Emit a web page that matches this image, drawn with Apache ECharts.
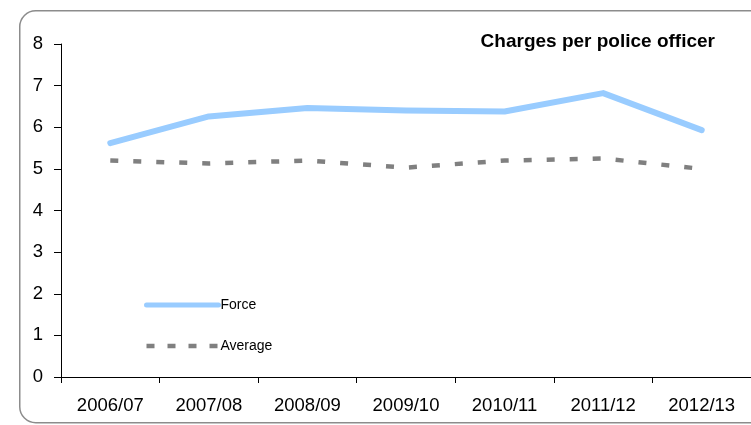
<!DOCTYPE html>
<html><head><meta charset="utf-8">
<script src="https://cdn.jsdelivr.net/npm/echarts@6/dist/echarts.min.js"></script>
<style>html,body{margin:0;padding:0;background:#fff}#c{width:751px;height:425px}</style>
</head><body><div id="c"></div>
<script>
const categories = ['2006/07','2007/08','2008/09','2009/10','2010/11','2011/12','2012/13'];
const forceValues = [5.62, 6.26, 6.46, 6.40, 6.38, 6.82, 5.93];
const averageValues = [5.20, 5.13, 5.20, 5.03, 5.20, 5.25, 5.00];
const yTicks = [0,1,2,3,4,5,6,7,8];

const chart = echarts.init(document.getElementById('c'));
chart.setOption({
  animation: false,
  graphic: [{
    type: 'rect', left: 19, top: 10, z: -1,
    shape: { width: 820, height: 412, r: 16 },
    style: { fill: '#fff', stroke: '#8c8c8c', lineWidth: 1.5 }
  }],
  title: {
    text: 'Charges per police officer',
    right: 31, top: 27,
    textStyle: { fontFamily: 'Liberation Sans', fontWeight: 'bold', fontSize: 19, color: '#000' }
  },
  legend: {
    orient: 'vertical', left: 139, top: 293, itemWidth: 72, itemHeight: 6, itemGap: 27,
    textStyle: { fontFamily: 'Liberation Sans', fontSize: 14, color: '#000', padding: [0,0,0,-3] },
    itemStyle: { opacity: 0 },
    data: [
      { name: 'Force', lineStyle: { width: 5, type: 'solid', cap: 'round' } },
      { name: 'Average', lineStyle: { width: 4.5, type: [8, 13] } }
    ]
  },
  grid: { left: 61, top: 44, bottom: 48, right: -4 },
  xAxis: {
    type: 'category', data: categories, boundaryGap: true,
    axisLine: { lineStyle: { color: '#000', width: 1 } },
    axisTick: { show: true, length: 6, lineStyle: { color: '#000' } },
    axisLabel: { fontFamily: 'Liberation Sans', fontSize: 18.5, color: '#000', margin: 19 },
    splitLine: { show: false }
  },
  yAxis: {
    type: 'value', min: yTicks[0], max: yTicks[yTicks.length-1], interval: 1,
    axisLine: { show: true, lineStyle: { color: '#000', width: 1 } },
    axisTick: { show: true, length: 7, lineStyle: { color: '#000' } },
    axisLabel: { fontFamily: 'Liberation Sans', fontSize: 18.5, color: '#000', margin: 18 },
    splitLine: { show: false }
  },
  series: [
    { name: 'Force', type: 'line', data: forceValues, symbol: 'none',
      lineStyle: { color: '#99ccff', width: 6, cap: 'round', join: 'round' }, itemStyle: { color: '#99ccff' } },
    { name: 'Average', type: 'line', data: averageValues, symbol: 'none',
      lineStyle: { color: '#808080', width: 4.5, type: [8, 15] }, itemStyle: { color: '#808080' } }
  ]
});
</script></body></html>
